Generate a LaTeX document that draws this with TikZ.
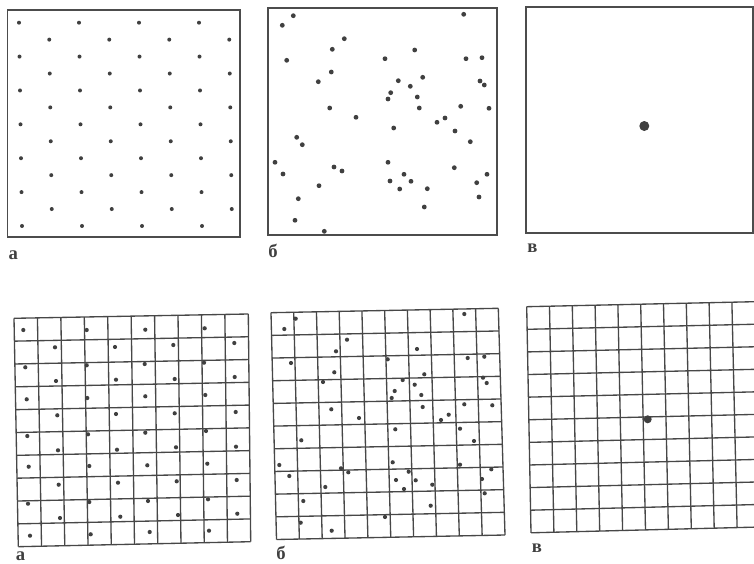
\documentclass[tikz,border=0pt]{standalone}
\usepackage{fontspec}
\setmainfont{Liberation Serif}
\usetikzlibrary{calc}

\begin{document}
\begin{tikzpicture}[x=0.75pt, y=-0.75pt,
  frame/.style={draw=black!70, line width=1.3pt},
  gridline/.style={draw=black!72, line width=1pt},
  spot/.style={fill=black!75},
  tag/.style={font=\fontsize{14}{16}\selectfont\bfseries, text=black!75, inner sep=0pt}]
  \useasboundingbox (0,0) rectangle (754,564);
  \clip (0,0) rectangle (754,564);

  % upper row
  \draw[frame] (7.5,10) rectangle (240,237);
  \draw[frame] (268,8.3) rectangle (497.3,235);
  \draw[frame] (526,6.7) rectangle (753,233.3);

  \foreach \r in {0,...,12} {
    \foreach \k in {0,...,3} {
      \pgfmathsetmacro{\xx}{19 + 30*mod(\r,2) + 60*\k + 0.25*\r}
      \fill[spot] (\xx, 22.7 + 16.94*\r) circle[radius=2];
    }
  }

  \foreach \p in {(293.3,15.7),(282.3,25.3),(463.7,14.3),(344.3,38.7),(332.3,49.3),
      (286.7,60.3),(385,58.7),(414.7,50),(466,58.7),(482,57.7),(331.3,72),(318.3,81.7),
      (398.3,80.7),(422.7,77.3),(410.3,86.3),(390.7,92.7),(388,99),(417.3,97),(480,81),
      (484.3,85),(329.7,108),(419.3,108),(460.7,106.3),(489,108.3),(356,117.3),(445,118),
      (437,122.3),(393.7,128),(455,131),(296.7,137.3),(302.3,144.7),(470.3,141.7),
      (275,162.3),(283,174),(334,167),(342,171),(388,162.3),(454.3,167.7),(390,181),
      (404,174.3),(411,181.3),(399.7,189),(427.3,188.7),(487,174.3),(476.7,182.7),
      (479,197),(319,185.7),(298.3,198.7),(424.3,207),(295,220.3),(324.3,231.3)}
    \fill[spot] \p circle[radius=2.4];

  \fill[spot] (644.3,126) circle[radius=5];

  \node[tag] (la) at (13.3,255) {а};
  \node[tag] (lb) at (273,251) {б};
  \node[tag] (lc) at (532.5,248.5) {в};

  % lower row
  \coordinate (atl) at (14,318.3);   \coordinate (atr) at (248.3,314);
  \coordinate (abl) at (18.3,546.7); \coordinate (abr) at (250.7,541.7);
  \coordinate (btl) at (271,312.7);  \coordinate (btr) at (498.3,308.3);
  \coordinate (bbl) at (276.5,539.5); \coordinate (bbr) at (505,535);
  \coordinate (ctl) at (526.7,306.7); \coordinate (ctr) at (754.7,301.7);
  \coordinate (cbl) at (531,532.8);  \coordinate (cbr) at (760,527);

  \foreach \g in {a,b,c} {
    \foreach \i in {0,...,10} {
      \pgfmathsetmacro{\f}{\i/10}
      \draw[gridline] ($(\g tl)!\f!(\g tr)$) -- ($(\g bl)!\f!(\g br)$);
      \draw[gridline] ($(\g tl)!\f!(\g bl)$) -- ($(\g tr)!\f!(\g br)$);
    }
  }

  \foreach \p in {(23.3,330),(86.7,330),(145.3,329.7),(204.7,328.3),
      (55,347.3),(115,347),(173.3,345),(234.3,343),
      (25.3,367.3),(86.7,365.3),(144.7,364),(204,362.7),
      (56,381),(116,379.7),(174.7,379),(234.7,377),
      (26.7,399.3),(87.3,398),(145.3,396.3),(205.3,395),
      (57.3,415.3),(116,414),(174.7,413.3),(235.7,412),
      (27.3,436),(88,434.3),(145.3,432.7),(206,431),
      (58,450.3),(117,449.7),(176,447.3),(236,446.7),
      (28.7,466.7),(89.3,466),(147.3,465.3),(207.3,463.7),
      (58.7,484.7),(118,482.7),(176.7,481.3),(236.7,480),
      (28,503.7),(89.3,502),(148,501),(208,499.3),
      (60,518),(120.3,516.7),(178,515),(237.3,513.7),
      (30,535.7),(90.7,534.3),(149.7,532),(209,530.7)}
    \fill[spot] \p circle[radius=2.1];

  \foreach \p in {(295.7,318.7),(284.3,329),(464.3,314),(347,339.7),(336,351.3),
      (417,349),(291,363),(387.7,359.3),(467.7,358),(484.3,356.7),(334.3,372.3),
      (323,382),(402.7,380),(424.3,374.3),(414.7,384.7),(394.7,391),(391.7,398),
      (421.3,395),(483,377.7),(486.7,383),(331.3,409.3),(422.7,407),(464.3,404.3),
      (492.3,405.3),(359,418),(448.7,414.7),(441,420),(395.3,429.3),(460,428.7),
      (301.3,440.3),(474,441),(279.3,465),(289.3,476),(341,468.3),(348.3,472.3),
      (392.7,462.3),(460,464.7),(408.7,471.7),(396,480),(415.7,480.3),(404,489),
      (432.3,484.7),(491.3,469.3),(482,479),(484.7,493.3),(325.3,487),(303.3,501),
      (430.7,505.7),(385,517),(300.7,522.7),(331.7,530.7)}
    \fill[spot] \p circle[radius=2.1];

  \fill[spot] (647.7,419.3) circle[radius=4];

  \node[tag] (ld) at (20.5,556) {а};
  \node[tag] (le) at (281,553) {б};
  \node[tag] (lf) at (537,548.3) {в};
\end{tikzpicture}
\end{document}
